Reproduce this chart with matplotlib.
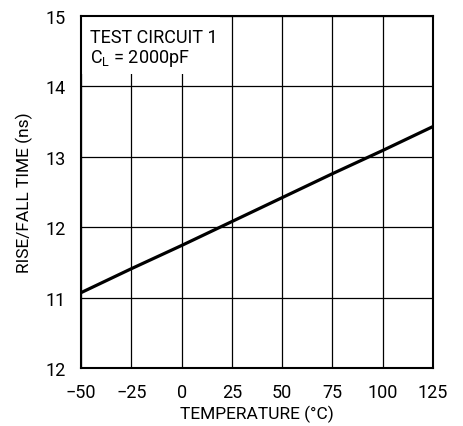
import matplotlib
matplotlib.use("Agg")
import matplotlib.pyplot as plt
from matplotlib.patches import Rectangle

plt.rcParams['font.family'] = ['Roboto', 'DejaVu Sans']

# data
temperature = [-50, -25, 0, 25, 50, 75, 100, 125]
rise_fall_ns = [11.07, 11.41, 11.74, 12.08, 12.42, 12.76, 13.09, 13.43]

x_ticks = [-50, -25, 0, 25, 50, 75, 100, 125]
x_labels = ['\u221250', '\u221225', '0', '25', '50', '75', '100', '125']
y_ticks = [10, 11, 12, 13, 14, 15]
y_labels = ['12', '11', '12', '13', '14', '15']   # as printed in the original

fig = plt.figure(figsize=(4.63, 4.27), dpi=100)
ax = fig.add_axes([81/463, 1 - 369/427, 352/463, 352/427])

ax.set_xlim(-50, 125)
ax.set_ylim(10, 15)
ax.set_xticks(x_ticks)
ax.set_xticklabels(x_labels)
ax.set_yticks(y_ticks)
ax.set_yticklabels(y_labels)
ax.tick_params(axis='x', length=0, labelsize=13, pad=11)
ax.tick_params(axis='y', length=0, labelsize=13, pad=11)
ax.grid(True, color='black', linewidth=0.9)
ax.set_axisbelow(True)
for s in ax.spines.values():
    s.set_linewidth(1.5)

ax.plot(temperature, rise_fall_ns, color='black', linewidth=2.3, zorder=3)

# white box behind the annotation (grid is hidden there)
ax.add_patch(Rectangle((-50, 14.18), 69, 0.82, facecolor='white', edgecolor='none', zorder=2))
ax.text(-45.5, 14.63, 'TEST CIRCUIT 1', fontsize=13, ha='left', va='baseline', zorder=4)
ax.text(-45.5, 14.35, '$\\mathregular{C_L}$ = 2000pF', fontsize=13, ha='left', va='baseline', zorder=4)

ax.set_xlabel('TEMPERATURE (\u00b0C)', fontsize=12.5)
ax.xaxis.set_label_coords(0.5, -0.103)
ax.set_ylabel('RISE/FALL TIME (ns)', fontsize=12.5)
ax.yaxis.set_label_coords(-0.135, 0.5)

fig.savefig('out.png', dpi=100)
